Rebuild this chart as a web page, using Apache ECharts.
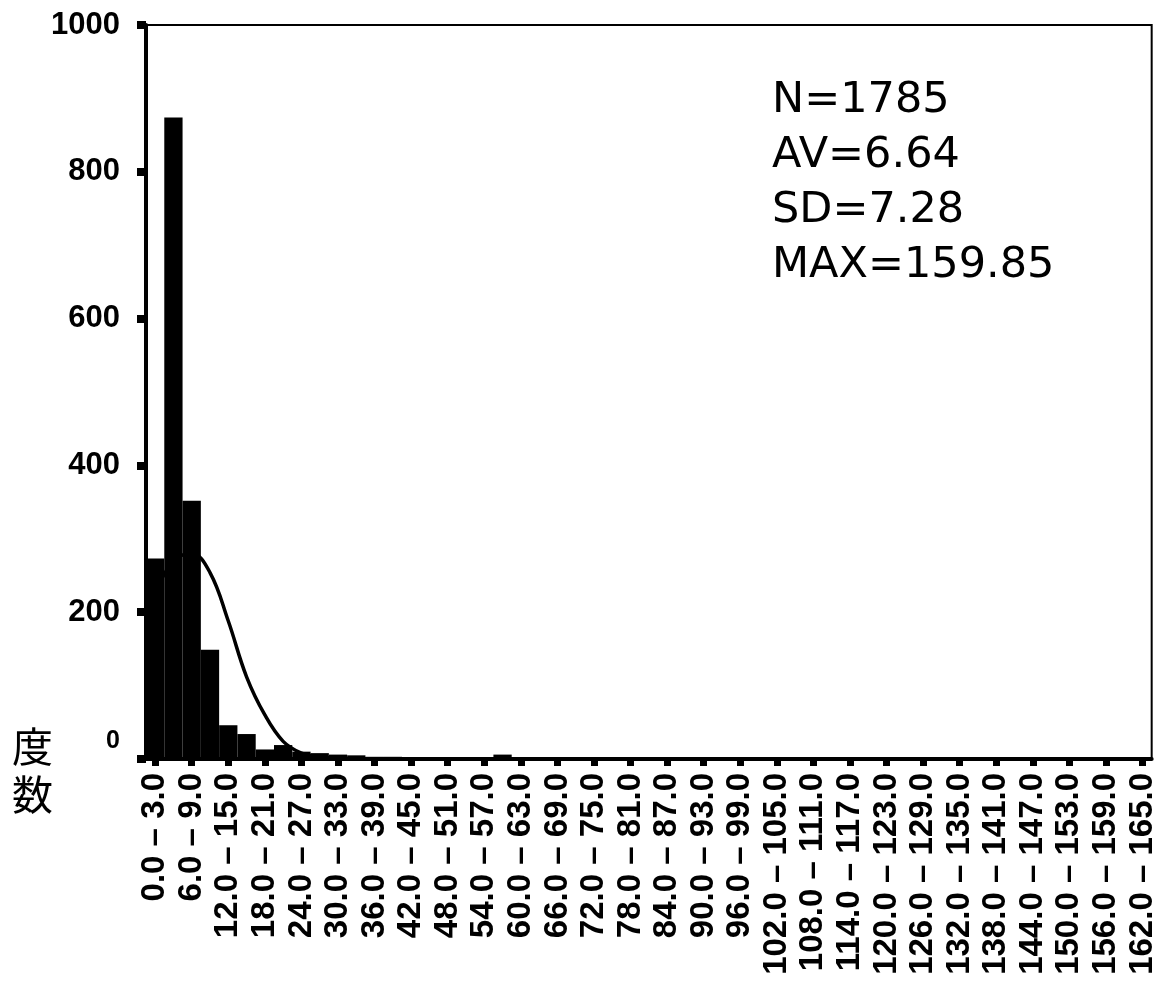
<!DOCTYPE html>
<html>
<head>
<meta charset="utf-8">
<script src="https://cdn.jsdelivr.net/npm/echarts@6/dist/echarts.min.js"></script>
<style>
  html, body { margin: 0; padding: 0; background: #fff; }
  #chart { width: 1159px; height: 981px; }
</style>
</head>
<body>
<div id="chart"></div>
<script>
// bins of 3.0 width, 0.0 - 165.0
const binStarts = [0, 3, 6, 9, 12, 15, 18, 21, 24, 27, 30, 33, 36, 39, 42, 45, 48, 51, 54, 57,
  60, 63, 66, 69, 72, 75, 78, 81, 84, 87, 90, 93, 96, 99, 102, 105, 108, 111, 114, 117,
  120, 123, 126, 129, 132, 135, 138, 141, 144, 147, 150, 153, 156, 159, 162]
const categories = binStarts.map(s => s.toFixed(1) + ' – ' + (s + 3).toFixed(1))

// frequency per bin
const counts = [273, 874, 352, 149, 46, 34, 13, 19, 10, 8, 6, 5, 3, 3, 2, 2, 2, 1, 2, 6,
  2, 1, 1, 1, 1, 0, 1, 1, 0, 1, 1, 0, 1, 0, 1, 0, 1, 0, 0, 0,
  0, 0, 0, 0, 1, 0, 0, 0, 0, 0, 0, 0, 0, 1, 0]

// normal curve, read at bin centres (first bins hidden behind bars)
const curve = [226, 270, 280, 254, 188, 112, 60, 24, 8, 3, 1, 0, 0, 0, 0, 0, 0, 0, 0, 0,
  0, 0, 0, 0, 0, 0, 0, 0, 0, 0, 0, 0, 0, 0, 0, 0, 0, 0, 0, 0,
  0, 0, 0, 0, 0, 0, 0, 0, 0, 0, 0, 0, 0, 0, 0]

const yTicks = [0, 200, 400, 600, 800, 1000]
const statsLines = ['N=1785', 'AV=6.64', 'SD=7.28', 'MAX=159.85']

const chart = echarts.init(document.getElementById('chart'))

const option = {
  animation: false,
  backgroundColor: '#fff',
  grid: {
    left: 146,
    right: 4,
    top: 25,
    bottom: 222,
    show: true,
    borderColor: '#000',
    borderWidth: 2
  },
  xAxis: {
    type: 'category',
    data: categories,
    boundaryGap: true,
    axisLine: { show: true, lineStyle: { color: '#000', width: 4 } },
    axisTick: {
      show: true,
      interval: 1,
      alignWithLabel: true,
      length: 7,
      lineStyle: { color: '#000', width: 7 }
    },
    axisLabel: {
      interval: 1,
      rotate: 90,
      margin: 14,
      color: '#000',
      fontSize: 33,
      fontWeight: 'bold',
      fontFamily: 'Liberation Sans, Arial, sans-serif'
    },
    splitLine: { show: false }
  },
  yAxis: {
    type: 'value',
    min: yTicks[0],
    max: yTicks[yTicks.length - 1],
    interval: 200,
    axisLine: { show: true, lineStyle: { color: '#000', width: 4 } },
    axisTick: { show: true, length: 9, lineStyle: { color: '#000', width: 8 } },
    axisLabel: {
      margin: 26,
      color: '#000',
      fontSize: 31,
      fontWeight: 'bold',
      fontFamily: 'Liberation Sans, Arial, sans-serif',
      formatter: function (v) {
        return v === 0 ? '{z|0}' : String(v)
      },
      rich: {
        z: {
          fontSize: 25,
          fontWeight: 'bold',
          fontFamily: 'Liberation Sans, Arial, sans-serif',
          color: '#000',
          padding: [0, 0, 36, 0]
        }
      }
    },
    splitLine: { show: false }
  },
  series: [
    {
      type: 'line',
      data: curve,
      smooth: 0.4,
      symbol: 'none',
      z: 1,
      lineStyle: { color: '#000', width: 3.5 }
    },
    {
      type: 'bar',
      data: counts,
      barWidth: '100%',
      barGap: '-100%',
      z: 2,
      itemStyle: { color: '#000' }
    }
  ],
  graphic: [
    {
      type: 'text',
      left: 772,
      top: 73,
      style: {
        text: statsLines.join('\n'),
        fontSize: 43,
        lineHeight: 55,
        fontFamily: 'DejaVu Sans, sans-serif',
        fill: '#000'
      }
    },
    {
      type: 'text',
      left: 12,
      top: 722,
      style: {
        text: '度\n数',
        fontSize: 41,
        lineHeight: 48,
        fontFamily: 'Noto Sans CJK JP, sans-serif',
        fill: '#000'
      }
    }
  ]
}

chart.setOption(option)
</script>
</body>
</html>
